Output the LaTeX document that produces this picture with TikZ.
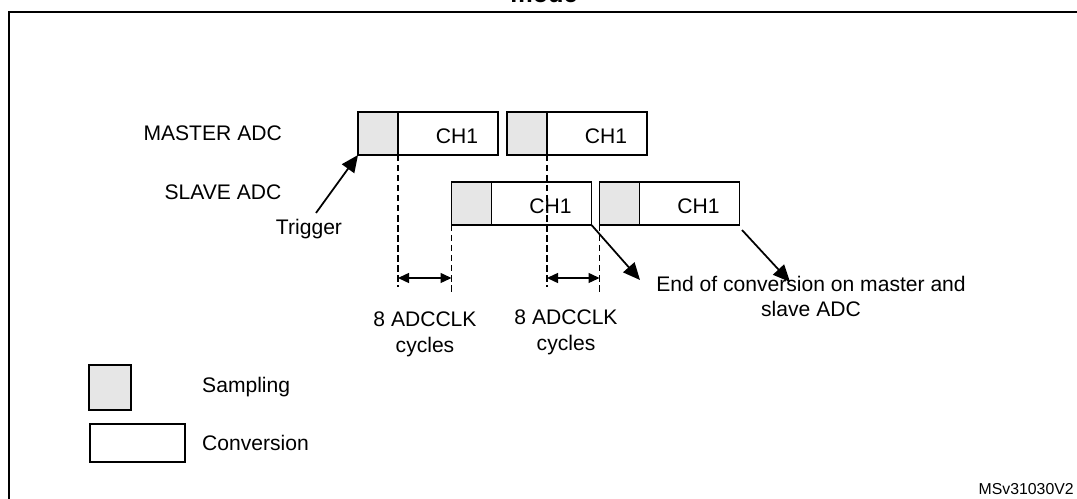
\documentclass[tikz,border=0pt]{standalone}
\usepackage{fontspec}
\setmainfont{Liberation Sans}
\usepackage{tikz}
\usetikzlibrary{arrows.meta,positioning}
\definecolor{smpgray}{HTML}{E6E6E6}

\begin{document}
\begin{tikzpicture}[font=\fontsize{12}{14.5}\selectfont]
\useasboundingbox (0,0) rectangle (21.54,9.96);
\draw[line width=1.1pt] (0.18,-0.5) |- (22,9.72);
\node[font=\fontsize{14.4}{17}\selectfont\bfseries, anchor=base] (ttl) at (10.88,9.9) {mode};
\tikzstyle{smp}=[draw, line width=0.9pt, fill=smpgray, inner sep=0pt, outer sep=0pt,
  minimum width=0.8cm, minimum height=0.86cm]
\tikzstyle{cnv}=[draw, line width=0.9pt, inner ysep=0pt, inner xsep=0.4cm, outer sep=0pt,
  text width=1.2cm, text height=0.4cm, align=right, minimum height=0.86cm]
\tikzstyle{arr}=[-{Triangle[length=0.34cm,width=0.3cm]}, line width=1pt]
\tikzstyle{dbl}=[{Triangle[length=0.22cm,width=0.2cm]}-{Triangle[length=0.22cm,width=0.2cm]},
  line width=0.8pt]
\tikzstyle{dsh}=[dash pattern=on 0.13cm off 0.07cm, line width=0.6pt]
\node[smp] (m1s) at (7.56,7.29) {};
\node[cnv, right=0pt of m1s] (m1c) {CH1};
\node[smp, right=0.18cm of m1c] (m2s) {};
\node[cnv, right=0pt of m2s] (m2c) {CH1};
\node[smp] (s1s) at (9.43,5.89) {};
\node[cnv, right=0pt of s1s] (s1c) {CH1};
\node[smp, right=0.16cm of s1c] (s2s) {};
\node[cnv, right=0pt of s2s] (s2c) {CH1};
\node[left=1.4cm of m1s] (mst) {MASTER ADC};
\node (slv) at (4.46,6.12) {SLAVE ADC};
\node (trg) at (6.18,5.38) {Trigger};
\draw[arr] ([xshift=0.14cm]trg.north) -- (m1s.south west);
\coordinate (dm) at (0,4.22);
\coordinate (ds) at (0,4.12);
\coordinate (ar) at (0,4.4);
\draw[dsh] (m1s.south east) -- (m1s.south east |- dm);
\draw[dsh] (m2s.south east) -- (m2s.south east |- dm);
\draw[dsh] (s1s.south west) -- (s1s.south west |- ds);
\draw[dsh] (s2s.south west) -- (s2s.south west |- ds);
\draw[dbl] (m1s.south east |- ar) -- (s1s.south west |- ar);
\draw[dbl] (m2s.south east |- ar) -- (s2s.south west |- ar);
\node[align=center, anchor=north] (ck1) at (8.5,3.84) {8 ADCCLK\\cycles};
\node[align=center, anchor=north] (ck2) at (11.32,3.88) {8 ADCCLK\\cycles};
\node[align=center, anchor=north] (eoc) at (16.22,4.56) {End of conversion on master and\\slave ADC};
\coordinate (e1) at (12.8,4.36);
\coordinate (e2) at (15.8,4.32);
\draw[arr] (s1c.south east) -- (e1);
\draw[arr] ([xshift=0.05cm,yshift=-0.1cm]s2c.south east) -- (e2);
\node[smp, minimum width=0.84cm, minimum height=0.9cm] (lsm) at (2.2,2.21) {};
\node[draw, line width=0.9pt, outer sep=0pt, minimum width=1.9cm, minimum height=0.76cm] (lcv) at (2.75,1.1) {};
\node[right=1.3cm of lsm] (lsmt) {Sampling};
\node[right=0.22cm of lcv] (lcvt) {Conversion};
\node[font=\fontsize{9}{11}\selectfont, anchor=base east, inner sep=0pt] (msv) at (21.48,0.08) {MSv31030V2};
\end{tikzpicture}
\end{document}
